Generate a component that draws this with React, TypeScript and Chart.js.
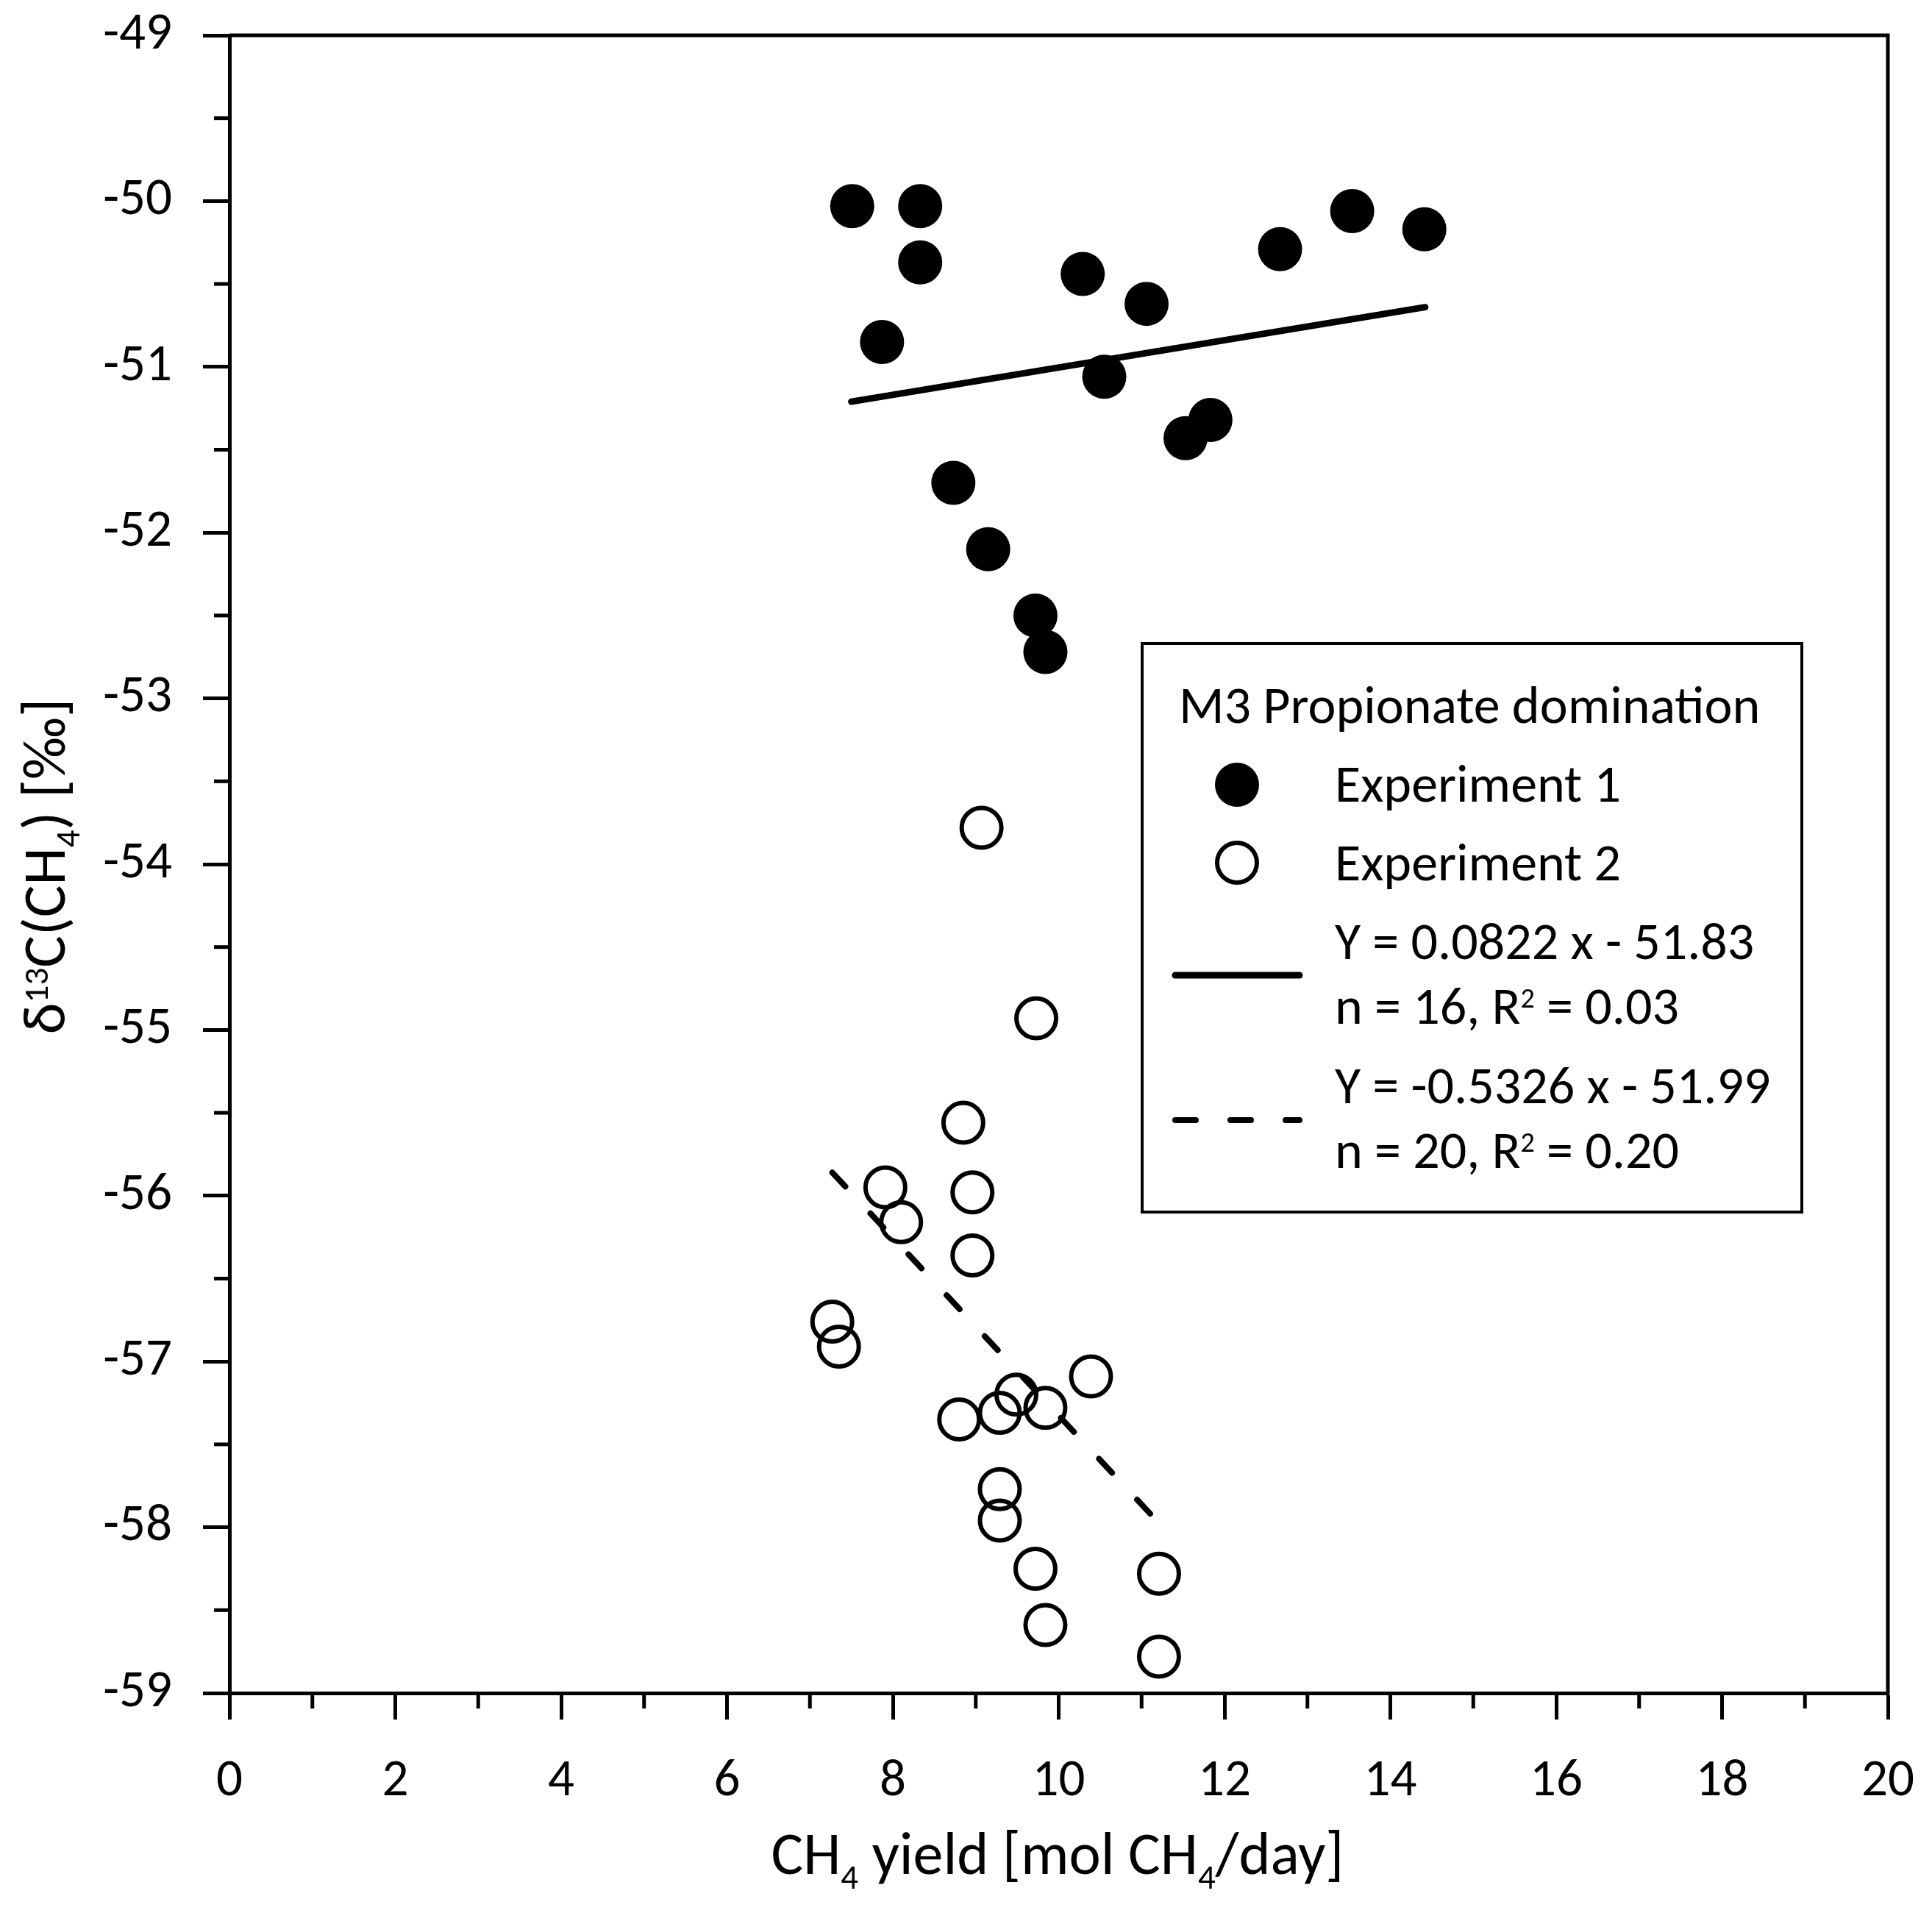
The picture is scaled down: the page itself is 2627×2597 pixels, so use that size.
import React, { useEffect, useRef } from 'react';
import { Chart, registerables } from 'chart.js';

Chart.register(...registerables);

// ---- data ----
const exp1X = [7.51, 8.33, 8.33, 7.87, 10.29, 11.06, 10.55, 12.67, 13.54, 14.41, 11.83, 11.53, 8.73, 9.15, 9.72, 9.84];
const exp1Y = [-50.03, -50.03, -50.37, -50.85, -50.44, -50.62, -51.06, -50.29, -50.06, -50.17, -51.32, -51.43, -51.7, -52.1, -52.5, -52.72];

const exp2X = [9.07, 9.73, 8.85, 7.91, 8.96, 8.1, 8.96, 7.27, 7.35, 10.39, 9.49, 9.84, 9.29, 8.8, 9.29, 9.29, 9.72, 11.21, 9.84, 11.21];
const exp2Y = [-53.78, -54.93, -55.56, -55.95, -55.98, -56.16, -56.36, -56.76, -56.91, -57.09, -57.2, -57.28, -57.31, -57.35, -57.77, -57.96, -58.25, -58.28, -58.59, -58.78];

const fit1X = [7.5, 14.42];
const fit1Y = [-51.21, -50.64];
const fit2X = [7.27, 11.2];
const fit2Y = [-55.86, -57.97];

const xMajorTicks = [0, 2, 4, 6, 8, 10, 12, 14, 16, 18, 20];
const xMinorTicks = [1, 3, 5, 7, 9, 11, 13, 15, 17, 19];
const yMajorTicks = [-49, -50, -51, -52, -53, -54, -55, -56, -57, -58, -59];
const yMinorTicks = [-49.5, -50.5, -51.5, -52.5, -53.5, -54.5, -55.5, -56.5, -57.5, -58.5];

const legendTitle = 'M3 Propionate domination';
const legendExp1 = 'Experiment 1';
const legendExp2 = 'Experiment 2';
const fit1Eq = 'Y = 0.0822 x - 51.83';
const fit1Stats = ['n = 16, R', '2', ' = 0.03'];
const fit2Eq = 'Y = -0.5326 x - 51.99';
const fit2Stats = ['n = 20, R', '2', ' = 0.20'];

const FONT = "Carlito, 'Open Sans', sans-serif";
const LEG = 72;
const TITLE = 82;

type Seg = { text: string; size: number; dy?: number };

function richWidth(ctx: CanvasRenderingContext2D, segs: Seg[]) {
  let w = 0;
  for (const s of segs) {
    ctx.font = `${s.size}px ${FONT}`;
    w += ctx.measureText(s.text).width;
  }
  return w;
}

function drawRich(ctx: CanvasRenderingContext2D, segs: Seg[], x: number, y: number) {
  let cx = x;
  ctx.textBaseline = 'alphabetic';
  ctx.textAlign = 'left';
  for (const s of segs) {
    ctx.font = `${s.size}px ${FONT}`;
    ctx.fillText(s.text, cx, y + (s.dy || 0));
    cx += ctx.measureText(s.text).width;
  }
}

const decor = {
  id: 'decor',
  afterDraw(chart: any) {
    const ctx: CanvasRenderingContext2D = chart.ctx;
    const { left, right, top, bottom } = chart.chartArea;
    const xs = chart.scales.x;
    const ys = chart.scales.y;
    ctx.save();
    ctx.strokeStyle = '#000';
    ctx.fillStyle = '#000';
    ctx.lineCap = 'butt';

    // top & right frame
    ctx.lineWidth = 5;
    ctx.beginPath();
    ctx.moveTo(left, top);
    ctx.lineTo(right, top);
    ctx.lineTo(right, bottom + 2.5);
    ctx.stroke();

    // minor ticks
    ctx.lineWidth = 5;
    for (const v of yMinorTicks) {
      const py = ys.getPixelForValue(v);
      ctx.beginPath();
      ctx.moveTo(left, py);
      ctx.lineTo(left - 21, py);
      ctx.stroke();
    }
    for (const v of xMinorTicks) {
      const px = xs.getPixelForValue(v);
      ctx.beginPath();
      ctx.moveTo(px, bottom);
      ctx.lineTo(px, bottom + 21);
      ctx.stroke();
    }

    // x axis title
    const xt: Seg[] = [
      { text: 'CH', size: TITLE },
      { text: '4', size: 47, dy: 20 },
      { text: ' yield [mol CH', size: TITLE },
      { text: '4', size: 47, dy: 20 },
      { text: '/day]', size: TITLE },
    ];
    const xw = richWidth(ctx, xt);
    drawRich(ctx, xt, 1438 - xw / 2, 2548);

    // y axis title (rotated)
    const yt: Seg[] = [
      { text: 'δ', size: TITLE },
      { text: '13', size: 47, dy: -23 },
      { text: 'C(CH', size: TITLE },
      { text: '4', size: 47, dy: 20 },
      { text: ') [‰]', size: TITLE },
    ];
    const yw = richWidth(ctx, yt);
    ctx.save();
    ctx.translate(88, 1178);
    ctx.rotate(-Math.PI / 2);
    drawRich(ctx, yt, -yw / 2, 0);
    ctx.restore();

    // legend box
    ctx.lineWidth = 4;
    ctx.strokeRect(1553, 875, 2450 - 1553, 1648 - 875);

    drawRich(ctx, [{ text: legendTitle, size: LEG }], 1603, 983);

    // experiment 1 marker
    ctx.beginPath();
    ctx.arc(1682, 1067, 30, 0, Math.PI * 2);
    ctx.fill();
    drawRich(ctx, [{ text: legendExp1, size: LEG }], 1815, 1090);

    // experiment 2 marker
    ctx.lineWidth = 6;
    ctx.beginPath();
    ctx.arc(1682, 1173, 27, 0, Math.PI * 2);
    ctx.stroke();
    drawRich(ctx, [{ text: legendExp2, size: LEG }], 1815, 1197);

    // solid fit line sample
    ctx.lineCap = 'round';
    ctx.lineWidth = 9;
    ctx.beginPath();
    ctx.moveTo(1598, 1326);
    ctx.lineTo(1767, 1326);
    ctx.stroke();
    drawRich(ctx, [{ text: fit1Eq, size: LEG }], 1815, 1304);
    drawRich(ctx, [
      { text: fit1Stats[0], size: LEG },
      { text: fit1Stats[1], size: 38, dy: -22 },
      { text: fit1Stats[2], size: LEG },
    ], 1815, 1392);

    // dashed fit line sample
    ctx.lineWidth = 8;
    ctx.setLineDash([28, 47]);
    ctx.beginPath();
    ctx.moveTo(1598, 1523);
    ctx.lineTo(1767, 1523);
    ctx.stroke();
    ctx.setLineDash([]);
    drawRich(ctx, [{ text: fit2Eq, size: LEG }], 1815, 1500);
    drawRich(ctx, [
      { text: fit2Stats[0], size: LEG },
      { text: fit2Stats[1], size: 38, dy: -22 },
      { text: fit2Stats[2], size: LEG },
    ], 1815, 1588);

    ctx.restore();
  },
};

export default function App() {
  const ref = useRef<HTMLCanvasElement>(null);
  useEffect(() => {
    document.body.style.margin = '0';
    const pts = (xs: number[], ys: number[]) => xs.map((x, i) => ({ x, y: ys[i] }));
    const tickFont = { family: FONT, size: 71 };
    const chart = new Chart(ref.current as HTMLCanvasElement, {
      type: 'scatter',
      data: {
        datasets: [
          {
            type: 'line',
            data: pts(fit1X, fit1Y),
            borderColor: '#000',
            borderWidth: 9,
            borderCapStyle: 'round',
            pointRadius: 0,
            fill: false,
            order: 0,
          } as any,
          {
            type: 'line',
            data: pts(fit2X, fit2Y),
            borderColor: '#000',
            borderWidth: 8,
            borderCapStyle: 'round',
            borderDash: [26, 50],
            pointRadius: 0,
            fill: false,
            order: 0,
          } as any,
          {
            data: pts(exp1X, exp1Y),
            pointRadius: 30,
            pointStyle: 'circle',
            backgroundColor: '#000',
            borderColor: '#000',
            borderWidth: 0,
            order: 1,
          },
          {
            data: pts(exp2X, exp2Y),
            pointRadius: 27,
            pointStyle: 'circle',
            backgroundColor: 'rgba(0,0,0,0)',
            borderColor: '#000',
            borderWidth: 6,
            order: 1,
          },
        ],
      },
      options: {
        responsive: false,
        animation: false,
        devicePixelRatio: 1,
        events: [],
        layout: { padding: { top: 48, right: 60, left: 0, bottom: 0 } },
        plugins: { legend: { display: false }, tooltip: { enabled: false } },
        scales: {
          x: {
            type: 'linear',
            min: 0,
            max: 20,
            afterBuildTicks: (s: any) => {
              s.ticks = xMajorTicks.map((v) => ({ value: v }));
            },
            ticks: { font: tickFont, color: '#000', padding: 43, maxRotation: 0, autoSkip: false },
            grid: { drawOnChartArea: false, drawTicks: true, tickLength: 36, tickWidth: 5, tickColor: '#000' },
            border: { display: true, width: 5, color: '#000' },
            afterFit: (s: any) => {
              s.height = 295;
              s.paddingLeft = 0;
              s.paddingRight = 0;
              s.paddingTop = 0;
              s.paddingBottom = 0;
            },
          },
          y: {
            type: 'linear',
            min: -59,
            max: -49,
            afterBuildTicks: (s: any) => {
              s.ticks = yMajorTicks.map((v) => ({ value: v }));
            },
            ticks: { font: tickFont, color: '#000', padding: 42, autoSkip: false },
            grid: { drawOnChartArea: false, drawTicks: true, tickLength: 36, tickWidth: 5, tickColor: '#000' },
            border: { display: true, width: 5, color: '#000' },
            afterFit: (s: any) => {
              s.width = 312;
              s.paddingLeft = 0;
              s.paddingRight = 0;
              s.paddingTop = 0;
              s.paddingBottom = 0;
            },
          },
        },
      } as any,
      plugins: [decor],
    });
    return () => chart.destroy();
  }, []);
  return (
    <div style={{ position: 'absolute', left: 0, top: 0, width: 2627, height: 2597, background: '#fff' }}>
      <canvas ref={ref} width={2627} height={2597} style={{ width: 2627, height: 2597, display: 'block' }} />
    </div>
  );
}
